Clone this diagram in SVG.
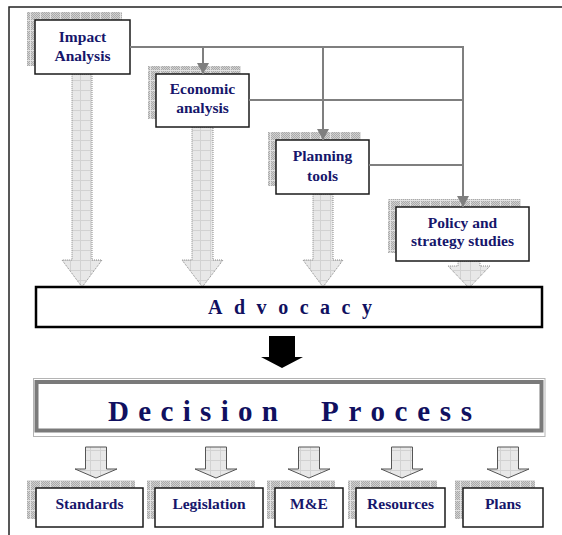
<svg xmlns="http://www.w3.org/2000/svg" width="562" height="535" viewBox="0 0 562 535">
<defs>
<pattern id="chk" width="2" height="2" patternUnits="userSpaceOnUse"><rect width="2" height="2" fill="#d2d2d2"/><rect width="1" height="1" fill="#aaaaaa"/><rect x="1" y="1" width="1" height="1" fill="#aaaaaa"/></pattern>
<pattern id="shad" width="10" height="10" patternUnits="userSpaceOnUse"><rect width="10" height="10" fill="url(#chk)"/><rect width="10" height="1" fill="#e2e2e2"/><rect width="1" height="10" fill="#e2e2e2"/></pattern>
<pattern id="lite" width="10" height="10" patternUnits="userSpaceOnUse"><rect width="10" height="10" fill="#e8e8e8"/><rect width="10" height="1" fill="#d2d2d2"/><rect width="1" height="10" fill="#d2d2d2"/></pattern>
<marker id="ah" markerUnits="userSpaceOnUse" markerWidth="12" markerHeight="12" refX="11" refY="6" orient="auto"><path d="M0,0 L11,6 L0,12 z" fill="#7f7f7f"/></marker>
</defs>
<style>
.sh{fill:url(#shad)}
.bx{fill:#fff;stroke:#1a1a1a;stroke-width:1.5}
.fat{fill:url(#lite);stroke:#8a8a8a;stroke-width:1;stroke-dasharray:1 1}
.sm{fill:url(#lite);stroke:#555;stroke-width:1}
.t{font-family:"Liberation Serif","Times New Roman",serif;font-weight:bold;font-size:15.5px;fill:#16166b;text-anchor:middle}
.big{font-family:"Liberation Serif","Times New Roman",serif;font-weight:bold;fill:#101060}
.cn{fill:none;stroke:#7f7f7f;stroke-width:2}
</style>
<rect width="562" height="535" fill="#fff"/>
<path d="M9,535 V7 H562" fill="none" stroke="#222" stroke-width="1.5"/>

<g id="fat-arrows">
<polygon class="fat" points="72,74 92,74 92,260 102,260 82,287 62,260 72,260"/>
<polygon class="fat" points="192,127 213,127 213,260 223,260 202.5,287 182,260 192,260"/>
<polygon class="fat" points="313,194 333,194 333,260 343,260 323,287 303,260 313,260"/>
<polygon class="fat" points="458,261 480,261 480,266 490,266 469,288 448,266 458,266"/>
</g>

<g id="impact">
<rect class="sh" x="27" y="12" width="95" height="54"/>
<rect class="bx" x="35" y="20" width="95" height="54"/>
<text class="t" x="82.5" y="42">Impact</text>
<text class="t" x="82.5" y="61">Analysis</text>
</g>
<g id="economic">
<rect class="sh" x="148" y="66" width="93" height="53"/>
<rect class="bx" x="156" y="74" width="93" height="53"/>
<text class="t" x="202.5" y="94">Economic</text>
<text class="t" x="202.5" y="113">analysis</text>
</g>
<g id="planning">
<rect class="sh" x="268" y="132" width="93" height="54"/>
<rect class="bx" x="276" y="140" width="93" height="54"/>
<text class="t" x="322.5" y="161">Planning</text>
<text class="t" x="322.5" y="181">tools</text>
</g>
<g id="policy">
<rect class="sh" x="388" y="199" width="133" height="54"/>
<rect class="bx" x="396" y="207" width="133" height="54"/>
<text class="t" x="462.5" y="228">Policy and</text>
<text class="t" x="462.5" y="246">strategy studies</text>
</g>

<g id="connectors">
<path class="cn" d="M130,47 H463 V207" marker-end="url(#ah)"/>
<path class="cn" d="M203,47 V74" marker-end="url(#ah)"/>
<path class="cn" d="M323,47 V140" marker-end="url(#ah)"/>
<path class="cn" d="M249,100 H463"/>
<path class="cn" d="M369,165 H463"/>
</g>

<g id="advocacy">
<rect x="36" y="287" width="506" height="40" fill="#fff" stroke="#000" stroke-width="2.5"/>
<text class="big" x="208" y="314" font-size="20" textLength="164" lengthAdjust="spacing">Advocacy</text>
</g>

<g id="black-arrow">
<polygon points="269,336 295,336 295,357 303,357 282,368 261,357 269,357" fill="#000"/>
</g>

<g id="decision">
<rect x="33.5" y="378.5" width="511.5" height="58" fill="none" stroke="#b4b4b4" stroke-width="1"/>
<rect x="36.5" y="382" width="505" height="48.5" fill="#fff" stroke="#7a7a7a" stroke-width="4"/>
<text class="big" x="108" y="421" font-size="29" textLength="170" lengthAdjust="spacing">Decision</text>
<text class="big" x="321" y="421" font-size="29" textLength="151" lengthAdjust="spacing">Process</text>
</g>

<g id="small-arrows">
<polygon class="sm" points="85.5,447 106.5,447 106.5,469 117,469 96,478 75,469 85.5,469"/>
<polygon class="sm" points="205.5,447 226.5,447 226.5,469 237,469 216,478 195,469 205.5,469"/>
<polygon class="sm" points="298.5,447 319.5,447 319.5,469 330,469 309,478 288,469 298.5,469"/>
<polygon class="sm" points="391.5,447 412.5,447 412.5,469 423,469 402,478 381,469 391.5,469"/>
<polygon class="sm" points="497.5,447 518.5,447 518.5,469 529,469 508,478 487,469 497.5,469"/>
</g>

<g id="standards">
<rect class="sh" x="27" y="480" width="108" height="39"/>
<rect class="bx" x="36" y="488" width="107" height="39"/>
<text class="t" x="89.5" y="509">Standards</text>
</g>
<g id="legislation">
<rect class="sh" x="147" y="480" width="108" height="39"/>
<rect class="bx" x="155" y="488" width="108" height="39"/>
<text class="t" x="209" y="509">Legislation</text>
</g>
<g id="me">
<rect class="sh" x="267" y="480" width="68" height="39"/>
<rect class="bx" x="275" y="488" width="68" height="39"/>
<text class="t" x="309" y="509">M&amp;E</text>
</g>
<g id="resources">
<rect class="sh" x="348" y="480" width="89" height="39"/>
<rect class="bx" x="356" y="488" width="89" height="39"/>
<text class="t" x="400.5" y="509">Resources</text>
</g>
<g id="plans">
<rect class="sh" x="455" y="480" width="80" height="39"/>
<rect class="bx" x="463" y="488" width="80" height="39"/>
<text class="t" x="503" y="509">Plans</text>
</g>
</svg>
